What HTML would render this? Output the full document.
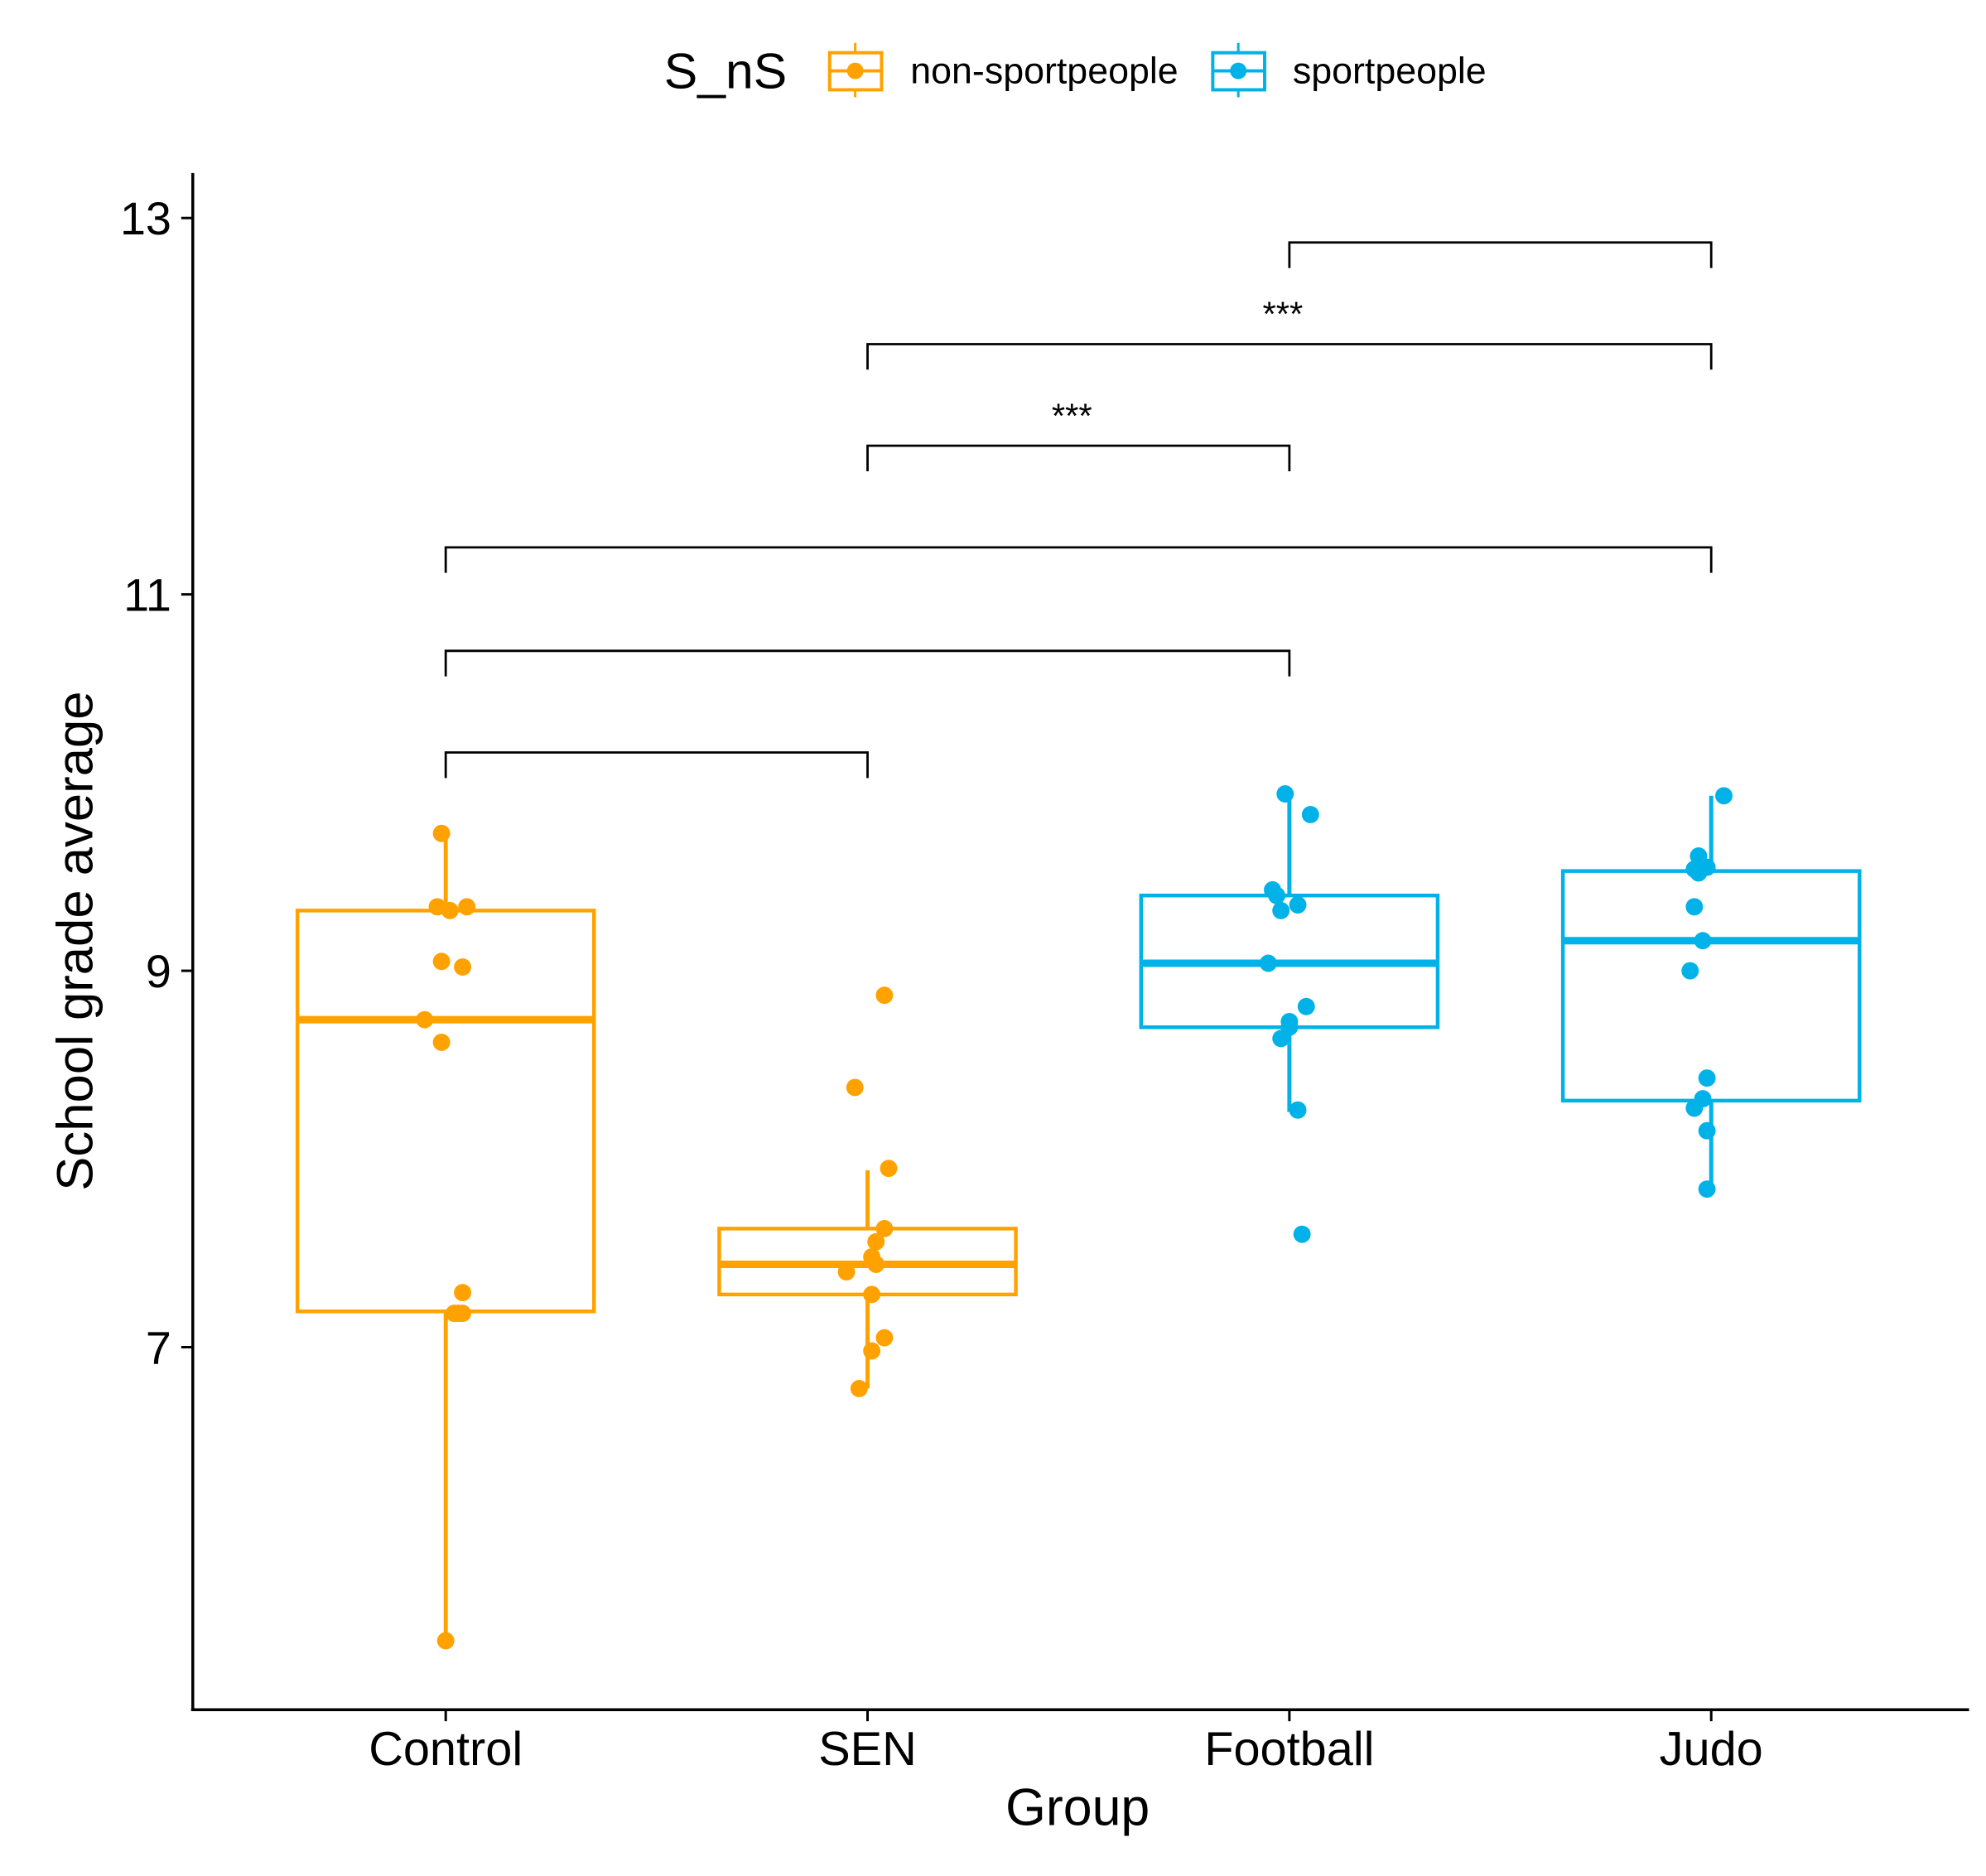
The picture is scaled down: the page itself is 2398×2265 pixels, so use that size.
<!DOCTYPE html>
<html><head><meta charset="utf-8"><style>
html,body{margin:0;padding:0;background:#fff;}
svg{display:block;font-family:"Liberation Sans",Arial,sans-serif;}
</style></head><body>
<svg id="chart" width="2398" height="2265" viewBox="0 0 2398 2265" xmlns="http://www.w3.org/2000/svg">
<rect width="2398" height="2265" fill="#fff"/>
<g transform="scale(0.9948)">
<g>
  <text x="806" y="107" font-size="61">S_nS</text>
  <g>
    <line x1="1038" y1="52" x2="1038" y2="118" stroke="#FFA200" stroke-width="3"/>
    <rect x="1007" y="64" width="63" height="45" fill="#fff" stroke="#FFA200" stroke-width="4"/>
    <line x1="1007" y1="86" x2="1070" y2="86" stroke="#FFA200" stroke-width="4"/>
    <circle cx="1038" cy="86" r="10" fill="#FFA200"/>
    <text x="1105" y="101" font-size="45">non-sportpeople</text>
  </g>
  <g>
    <line x1="1503" y1="52" x2="1503" y2="118" stroke="#00B2E8" stroke-width="3"/>
    <rect x="1472" y="64" width="63" height="45" fill="#fff" stroke="#00B2E8" stroke-width="4"/>
    <line x1="1472" y1="86" x2="1535" y2="86" stroke="#00B2E8" stroke-width="4"/>
    <circle cx="1503" cy="86" r="10" fill="#00B2E8"/>
    <text x="1569" y="101" font-size="45">sportpeople</text>
  </g>
</g>
<g id="plot"></g>
</g>
</svg>
<script>
const categories = ["Control","SEN","Football","Judo"];
const groupColor = ["#FFA200","#FFA200","#00B2E8","#00B2E8"];
const q1 = [7.19, 7.28, 8.70, 8.31];
const q3 = [9.32, 7.63, 9.40, 9.53];
const medians = [8.74, 7.44, 9.04, 9.16];
const whiskerHigh = [9.73, 7.94, 9.94, 9.93];
const whiskerLow = [5.44, 6.78, 8.25, 7.83];
const pointsControl = [9.73,9.34,9.32,9.34,9.05,9.02,8.74,8.62,7.29,7.18,7.18,7.18,5.44];
const pointsSEN = [8.87,8.38,7.95,7.63,7.56,7.48,7.40,7.44,7.28,7.05,6.98,6.78];
const pointsFootball = [9.94,9.83,9.43,9.40,9.35,9.32,9.04,8.81,8.73,8.70,8.64,8.26,7.60];
const pointsJudo = [9.93,9.61,9.54,9.55,9.52,9.34,9.16,9.00,8.43,8.32,8.27,8.15,7.84];
const jitterControl = [-0.01,-0.02,0.01,0.05,-0.01,0.04,-0.05,-0.01,0.04,0.02,0.04,0.03,0.00];
const jitterSEN = [0.04,-0.03,0.05,0.04,0.02,0.01,-0.05,0.02,0.01,0.04,0.01,-0.02];
const jitterFootball = [-0.01,0.05,-0.04,-0.03,0.02,-0.02,-0.05,0.04,0.00,0.00,-0.02,0.02,0.03];
const jitterJudo = [0.03,-0.03,-0.04,-0.01,-0.03,-0.04,-0.02,-0.05,-0.01,-0.02,-0.04,-0.01,-0.01];
const yTicks = [7, 9, 11, 13];
const bracketFrom = [2, 1, 1, 0, 0, 0];
const bracketTo = [3, 3, 2, 3, 2, 1];
const bracketLevel = [12.87, 12.33, 11.79, 11.25, 10.70, 10.16];
const bracketLabel = ["", "***", "***", "", "", ""];

const NS = "http://www.w3.org/2000/svg";
const plot = document.getElementById("plot");
const yScale = v => 1635 - (v - 7) * 228.4;
const xScale = i => 541 + i * 512;
function mk(tag, attrs, parent) {
  const e = document.createElementNS(NS, tag);
  for (const k in attrs) e.setAttribute(k, attrs[k]);
  (parent || plot).appendChild(e);
  return e;
}
const ax = mk("line", {x1:234, y1:210, x2:234, y2:2076, stroke:"#000", "stroke-width":3.5});


const bx = mk("line", {x1:232, y1:2075, x2:2390, y2:2075, stroke:"#000", "stroke-width":3.5});


yTicks.forEach(t => {
  const y = yScale(t);
  const tk = mk("line", {x1:220, y1:y, x2:234, y2:y, stroke:"#000", "stroke-width":3});
  
  
  const tx = mk("text", {x:208, y:y+20, "font-size":56, "text-anchor":"end", fill:"#000"});
  tx.textContent = t;
  
  
});
categories.forEach((c, i) => {
  const x = xScale(i);
  const tk = mk("line", {x1:x, y1:2075, x2:x, y2:2089, stroke:"#000", "stroke-width":3});
  
  
  const tx = mk("text", {x:x, y:2142, "font-size":58, "text-anchor":"middle", fill:"#000"});
  tx.textContent = c;
  
  
});
const xt = mk("text", {x:1308, y:2215, "font-size":63, "text-anchor":"middle"});
xt.textContent = "Group";


const yt = mk("text", {x:0, y:0, "font-size":62, "text-anchor":"middle", transform:"translate(112,1142) rotate(-90)"});
yt.textContent = "School grade average";



const pts = [pointsControl, pointsSEN, pointsFootball, pointsJudo];
const jit = [jitterControl, jitterSEN, jitterFootball, jitterJudo];
categories.forEach((c, i) => {
  const x = xScale(i), col = groupColor[i], hw = 180;
  const g = mk("g", {});
  
  
  mk("line", {x1:x, y1:yScale(q3[i]), x2:x, y2:yScale(whiskerHigh[i]), stroke:col, "stroke-width":5}, g);
  mk("line", {x1:x, y1:yScale(q1[i]), x2:x, y2:yScale(whiskerLow[i]), stroke:col, "stroke-width":5}, g);
  mk("rect", {x:x-hw, y:yScale(q3[i]), width:hw*2, height:yScale(q1[i])-yScale(q3[i]), fill:"none", stroke:col, "stroke-width":4.5}, g);
  mk("line", {x1:x-hw, y1:yScale(medians[i]), x2:x+hw, y2:yScale(medians[i]), stroke:col, "stroke-width":9}, g);
  pts[i].forEach((v, j) => {
    const p = mk("circle", {cx:x + jit[i][j]*512, cy:yScale(v), r:10.5, fill:col}, g);
    
    
  });
});
bracketLevel.forEach((lv, k) => {
  const x1 = xScale(bracketFrom[k]), x2 = xScale(bracketTo[k]), y = yScale(lv);
  const p = mk("path", {d:`M${x1},${y+31} V${y} H${x2} V${y+31}`, fill:"none", stroke:"#000", "stroke-width":2.8});
  
  
  if (bracketLabel[k]) {
    const t = mk("text", {x:(x1+x2)/2 - 8, y:y-22, "font-size":42, "text-anchor":"middle"});
    t.textContent = bracketLabel[k];
    
    
  }
});
</script>
</body></html>
